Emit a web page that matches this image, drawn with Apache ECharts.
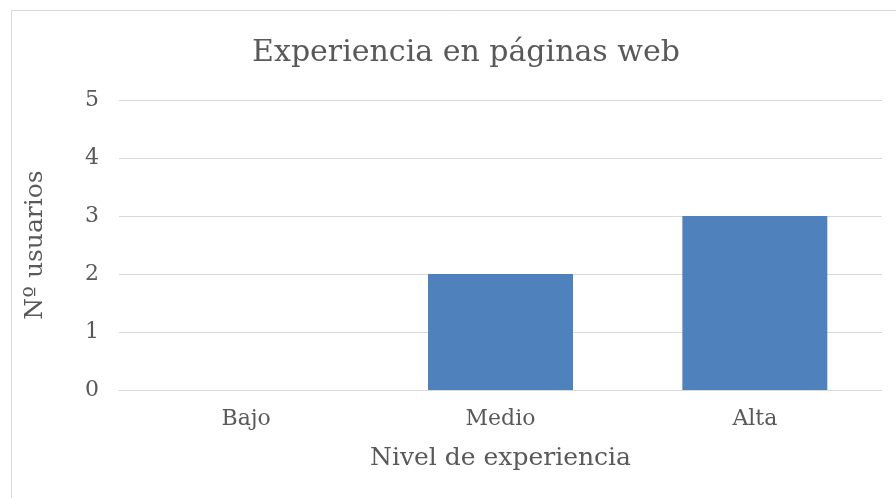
<!DOCTYPE html>
<html>
<head>
<meta charset="utf-8">
<script src="https://cdn.jsdelivr.net/npm/echarts@6/dist/echarts.min.js"></script>
<style>
  html, body { margin: 0; padding: 0; background: #fff; }
  #main { width: 896px; height: 498px; }
</style>
</head>
<body>
<div id="main"></div>
<script>
var categories = ['Bajo', 'Medio', 'Alta'];
var usuarios = [0, 2, 3];
var yTicks = [0, 1, 2, 3, 4, 5];

var font = '"DejaVu Serif", "Liberation Serif", serif';
var textColor = '#595959';

var myChart = echarts.init(document.getElementById('main'));
var option = {
    backgroundColor: '#fff',
    animation: false,
    textStyle: { fontFamily: font },
    graphic: [{
        type: 'rect',
        shape: { x: 11.5, y: 10.5, width: 900, height: 520 },
        style: { fill: 'none', stroke: '#d9d9d9', lineWidth: 1 },
        silent: true
    }],
    title: {
        text: 'Experiencia en páginas web',
        left: 461,
        textAlign: 'center',
        top: 33,
        textStyle: { fontFamily: font, fontSize: 30, fontWeight: 'normal', color: textColor }
    },
    grid: { left: 119, right: 14, top: 100, bottom: 108 },
    xAxis: {
        type: 'category',
        data: categories,
        name: 'Nivel de experiencia',
        nameLocation: 'middle',
        nameGap: 56,
        nameTextStyle: { fontFamily: font, fontSize: 25, color: textColor },
        axisLine: { lineStyle: { color: '#d9d9d9' } },
        axisTick: { show: false },
        axisLabel: { fontFamily: font, fontSize: 22, color: textColor, margin: 18 }
    },
    yAxis: {
        type: 'value',
        min: 0,
        max: yTicks[yTicks.length - 1],
        interval: 1,
        name: 'Nº usuarios',
        nameLocation: 'middle',
        nameGap: 71,
        nameTextStyle: { fontFamily: font, fontSize: 25, color: textColor },
        axisLine: { show: false },
        axisTick: { show: false },
        axisLabel: { fontFamily: font, fontSize: 22, color: textColor, margin: 20 },
        splitLine: { lineStyle: { color: '#d9d9d9', width: 1 } }
    },
    series: [{
        type: 'bar',
        data: usuarios,
        barWidth: '57%',
        itemStyle: { color: '#4F81BD' }
    }]
};
option && myChart.setOption(option);
</script>
</body>
</html>
